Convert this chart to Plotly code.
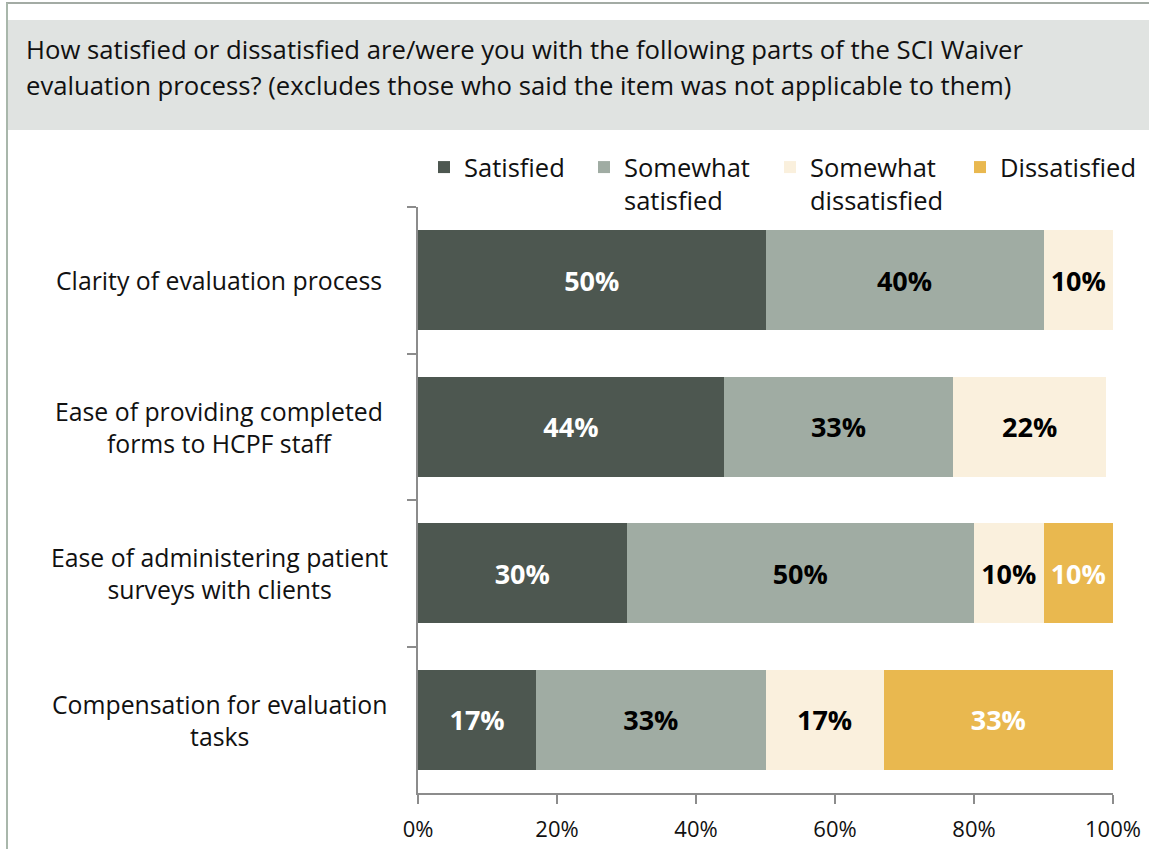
import plotly.graph_objects as go

categories = [
    "Clarity of evaluation process",
    "Ease of providing completed<br>forms to HCPF staff",
    "Ease of administering patient<br>surveys with clients",
    "Compensation for evaluation<br>tasks",
]
series_names = ["Satisfied", "Somewhat<br>satisfied", "Somewhat<br>dissatisfied", "Dissatisfied"]
satisfied = [50, 44, 30, 17]
somewhat_satisfied = [40, 33, 50, 33]
somewhat_dissatisfied = [10, 22, 10, 17]
dissatisfied = [0, 0, 10, 33]
x_ticks = [0, 20, 40, 60, 80, 100]
x_tick_labels = ["0%", "20%", "40%", "60%", "80%", "100%"]
title_lines = [
    "How satisfied or dissatisfied are/were you with the following parts of the SCI Waiver",
    "evaluation process? (excludes those who said the item was not applicable to them)",
]

colors = ["#4d5750", "#a0aca3", "#faf0dd", "#e9b84f"]
label_colors = ["white", "black", "black", "white"]
FONT = "'Open Sans', 'Noto Sans', sans-serif"
TXT = "#111111"

W, H = 1149, 849
L, R, T, B = 418, 36, 207, 56
pw, ph = W - L - R, H - T - B


def px_x(p):
    return (p - L) / pw


def px_y(p):
    return (H - B - p) / ph


legend_ids = ["legend", "legend2", "legend3", "legend4"]
legend_px = [424, 584, 770, 960]

fig = go.Figure()
all_vals = [satisfied, somewhat_satisfied, somewhat_dissatisfied, dissatisfied]
for name, vals, col, lc, lg in zip(series_names, all_vals, colors, label_colors, legend_ids):
    fig.add_trace(go.Bar(
        name=name,
        y=categories,
        x=vals,
        orientation="h",
        legend=lg,
        marker=dict(color=col, line=dict(width=0)),
        text=[f"<b>{v}%</b>" if v > 0 else "" for v in vals],
        textposition="inside",
        insidetextanchor="middle",
        textangle=0,
        constraintext="none",
        textfont=dict(color=lc, size=27, family=FONT),
        hoverinfo="skip",
    ))

shapes = [
    dict(type="rect", xref="paper", yref="paper",
         x0=px_x(6), x1=px_x(1160), y0=px_y(130), y1=px_y(20),
         fillcolor="#e0e3e1", line=dict(width=0), layer="below"),
    dict(type="line", xref="paper", yref="paper",
         x0=px_x(6), x1=px_x(1160), y0=px_y(3), y1=px_y(3),
         line=dict(color="#a3aba4", width=2)),
    dict(type="line", xref="paper", yref="paper",
         x0=px_x(7), x1=px_x(7), y0=px_y(3), y1=px_y(860),
         line=dict(color="#a9b7ab", width=2)),
]

annotations = []
for i, line in enumerate(title_lines):
    annotations.append(dict(
        text=line, xref="paper", yref="paper",
        x=px_x(24), y=px_y(50 + 35 * i), xanchor="left", yanchor="middle",
        showarrow=False, font=dict(size=25.7, color=TXT, family=FONT), align="left"))
for c in categories:
    annotations.append(dict(
        text=c, xref="paper", yref="y", x=px_x(219), y=c,
        xanchor="center", yanchor="middle", showarrow=False, align="center",
        font=dict(size=24.8, color=TXT, family=FONT)))

legend_style = dict(
    orientation="h", y=px_y(144), xanchor="left", yanchor="top",
    font=dict(size=25.5, family=FONT, color=TXT),
    valign="top", itemclick=False, itemdoubleclick=False,
    bgcolor="rgba(0,0,0,0)",
)

layout_legends = {lg: dict(legend_style, x=px_x(xp)) for lg, xp in zip(legend_ids, legend_px)}

fig.update_layout(
    width=W, height=H,
    margin=dict(l=L, r=R, t=T, b=B, pad=0, autoexpand=False),
    barmode="stack",
    bargap=0.315,
    plot_bgcolor="white",
    paper_bgcolor="white",
    font=dict(family=FONT, color=TXT),
    showlegend=True,
    shapes=shapes,
    annotations=annotations,
    xaxis=dict(
        range=[0, 100], tickvals=x_ticks, ticktext=x_tick_labels,
        showgrid=False, zeroline=False, showline=True, linecolor="#8c8c8c", linewidth=2,
        ticks="outside", ticklen=9, tickwidth=2, tickcolor="#8c8c8c",
        ticklabelstandoff=7,
        tickfont=dict(size=22, family=FONT, color=TXT),
        fixedrange=True,
    ),
    yaxis=dict(
        autorange="reversed", showticklabels=False, showgrid=False, zeroline=False,
        showline=True, linecolor="#8c8c8c", linewidth=2,
        ticks="outside", ticklen=9, tickwidth=2, tickcolor="#8c8c8c", tickson="boundaries",
        fixedrange=True,
    ),
    **layout_legends,
)

fig.write_html("out.html", config={"displayModeBar": False},
               post_script="document.body.style.margin='0px';")
